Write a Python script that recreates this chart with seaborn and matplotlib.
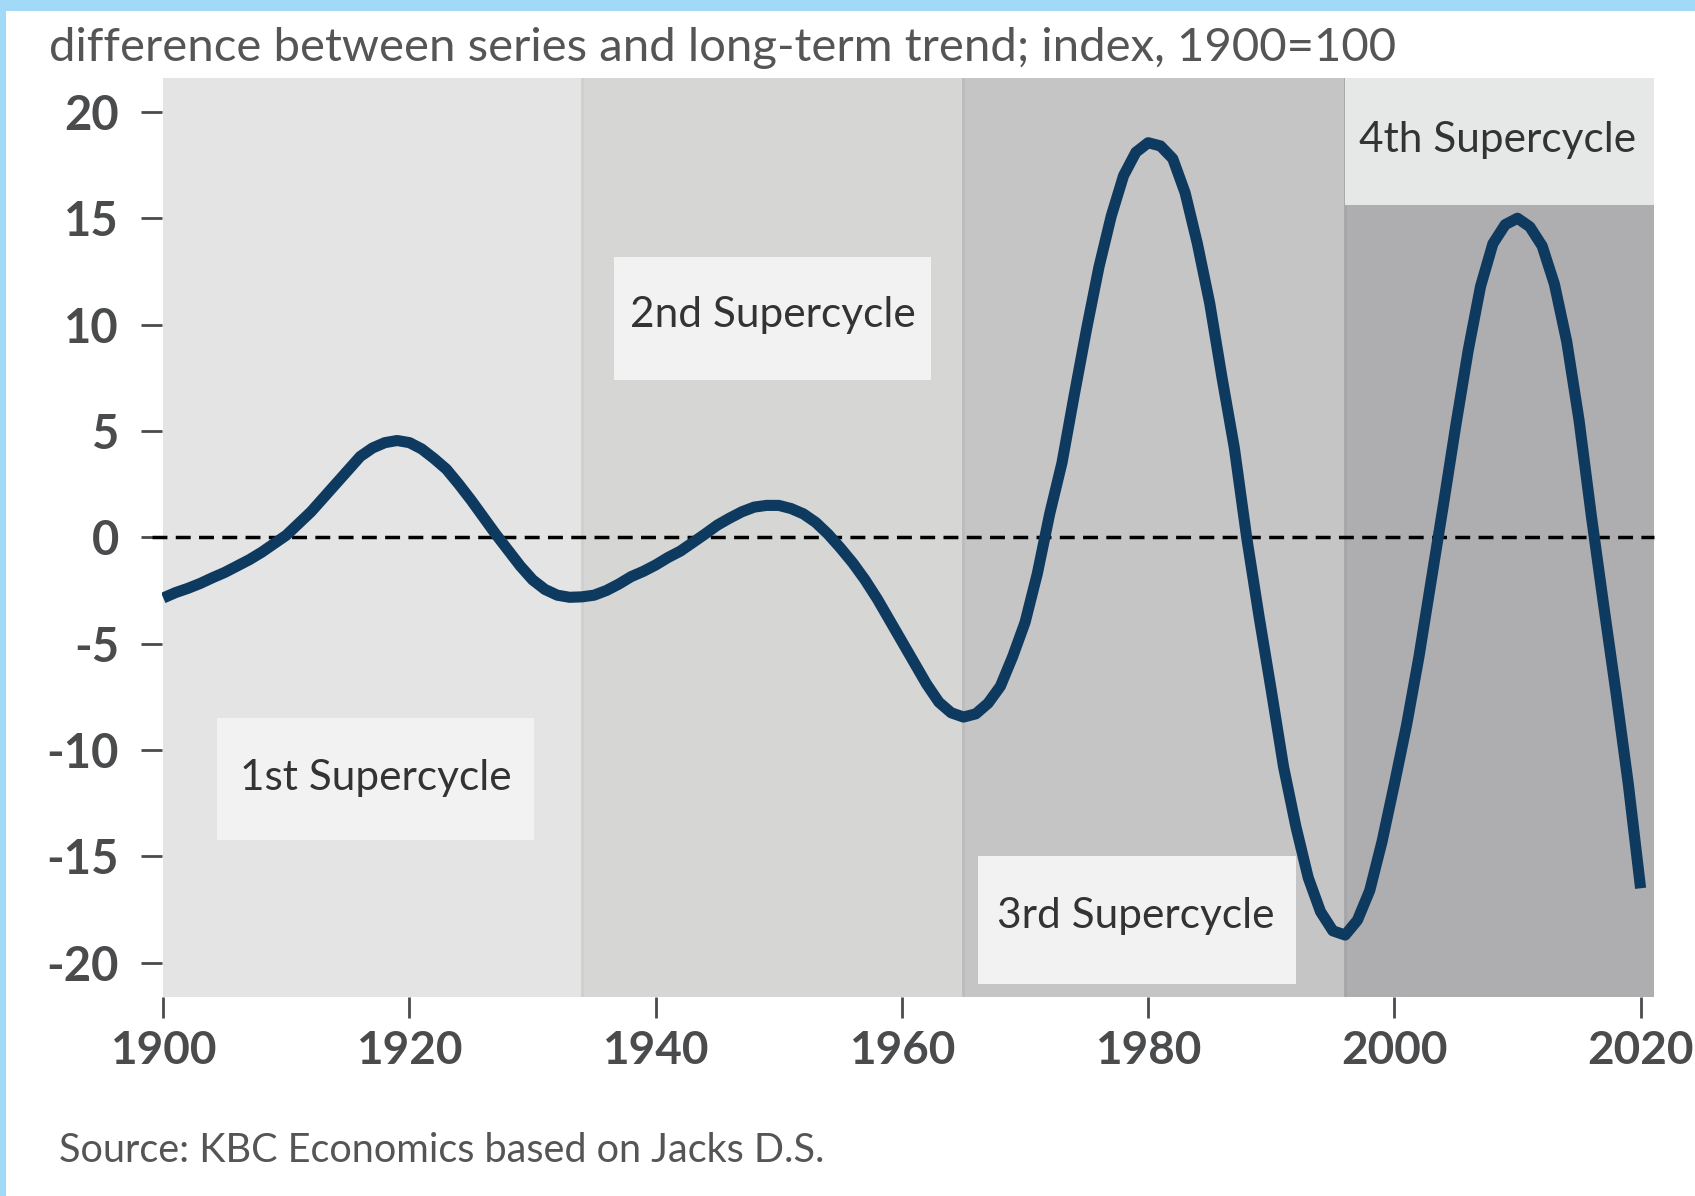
import numpy as np
import pandas as pd
import seaborn as sns
import matplotlib.pyplot as plt
from matplotlib.patches import Rectangle

# ------------------------------------------------- data ---------------------------------------------
years = list(range(1900, 2021))
gap = [
    -2.85, -2.6, -2.4, -2.17, -1.9, -1.65, -1.35, -1.05, -0.7, -0.3,      # 1900-1909
    0.1, 0.65, 1.2, 1.85, 2.5, 3.15, 3.8, 4.2, 4.45, 4.55,                # 1910-1919
    4.45, 4.15, 3.7, 3.2, 2.5, 1.75, 0.95, 0.15, -0.6, -1.35,             # 1920-1929
    -2.0, -2.45, -2.72, -2.82, -2.8, -2.72, -2.5, -2.2, -1.85, -1.6,      # 1930-1939
    -1.3, -0.95, -0.65, -0.25, 0.15, 0.57, 0.9, 1.2, 1.42, 1.5,           # 1940-1949
    1.5, 1.35, 1.1, 0.7, 0.15, -0.5, -1.2, -2.0, -2.9, -3.9,              # 1950-1959
    -4.9, -5.9, -6.9, -7.75, -8.25, -8.45, -8.3, -7.8, -7.0, -5.6,        # 1960-1969
    -4.0, -1.7, 1.1, 3.5, 6.7, 9.8, 12.7, 15.1, 17.0, 18.1,               # 1970-1979
    18.55, 18.4, 17.8, 16.2, 13.8, 11.0, 7.5, 4.2, 0.0, -3.7,             # 1980-1989
    -7.2, -10.8, -13.6, -16.0, -17.6, -18.5, -18.7, -18.0, -16.6, -14.3,  # 1990-1999
    -11.6, -8.8, -5.6, -2.0, 1.6, 5.3, 8.8, 11.8, 13.8, 14.7,             # 2000-2009
    15.0, 14.6, 13.7, 11.9, 9.2, 5.5, 1.0, -3.2, -7.3, -11.6,             # 2010-2019
    -16.5,                                                                # 2020
]

cycle_names = ['1st Supercycle', '2nd Supercycle', '3rd Supercycle', '4th Supercycle']
cycle_start = [1900, 1934, 1965, 1996]
cycle_end = [1934, 1965, 1996, 2021.1]

x_ticks = [1900, 1920, 1940, 1960, 1980, 2000, 2020]
y_ticks = [20, 15, 10, 5, 0, -5, -10, -15, -20]

df = pd.DataFrame({'year': years, 'gap': gap})

# ------------------------------------------------- style ---------------------------------------------
sns.set_theme(style='white')
plt.rcParams['font.family'] = ['Lato', 'DejaVu Sans']

band_colors = ['#E3E4E3', '#D6D6D5', '#C5C5C5', '#AEAEB0']
edge_colors = ['#E3E4E3', '#CFCFCF', '#BCBCBC', '#A6A6A8']
box_color = '#F1F2F1'
text_color = '#333333'
tick_color = '#4A4B4D'

fig = plt.figure(figsize=(16.95, 11.96), dpi=100)

# light blue frame at the top and left
fig.patches.append(Rectangle((0, 1 - 11 / 1196), 1, 11 / 1196, transform=fig.transFigure,
                             facecolor='#A2D9F6', lw=0))
fig.patches.append(Rectangle((0, 0), 6 / 1695, 1, transform=fig.transFigure,
                             facecolor='#A2D9F6', lw=0))

ax = fig.add_axes([0.0956, 0.1666, 0.8803, 0.7683])
ax.set_xlim(1899.9, 2021.1)
ax.set_ylim(-21.6, 21.6)

# supercycle shading
for s, e, c, ec in zip(cycle_start, cycle_end, band_colors, edge_colors):
    ax.axvspan(s, e, color=c, lw=0, zorder=0)
    if s > cycle_start[0]:
        ax.axvline(s, color=ec, lw=2, zorder=0.5)
ax.axvspan(cycle_start[3], cycle_end[3], ymin=(15.6 + 21.6) / 43.2, ymax=1,
           color='#E6E7E7', lw=0, zorder=0.6)

# label boxes
boxes = [(1904.4, -14.25, 25.7, 5.75), (1936.6, 7.4, 25.8, 5.8), (1966.2, -21.0, 25.8, 6.0)]
for x0, y0, w, h in boxes:
    ax.add_patch(Rectangle((x0, y0), w, h, facecolor=box_color, lw=0, zorder=1))

label_pos = [(1917.3, -11.3), (1949.5, 10.45), (1979.0, -17.8), (2008.4, 18.7)]
for name, (tx, ty) in zip(cycle_names, label_pos):
    ax.text(tx, ty, name, ha='center', va='center', fontsize=30.5, color=text_color, zorder=2)

# zero line and series
ax.axhline(0, xmin=-0.007, xmax=1, color='black', lw=2.5, ls=(0, (4.3, 2.4)),
           zorder=2, clip_on=False)
sns.lineplot(data=df, x='year', y='gap', color='#0E3A60', lw=8, ax=ax, zorder=3,
             solid_capstyle='butt', solid_joinstyle='round')

# axes
sns.despine(ax=ax, left=True, bottom=True)
ax.set_xlabel('')
ax.set_ylabel('')
ax.set_xticks(x_ticks)
ax.set_xticklabels([str(t) for t in x_ticks], fontweight='bold')
ax.set_yticks(y_ticks)
ax.set_yticklabels([str(t) for t in y_ticks], fontweight='bold')
ax.tick_params(axis='x', length=15, width=2, color=tick_color, labelcolor=tick_color,
               labelsize=33, pad=9, bottom=True)
ax.tick_params(axis='y', length=15, width=2, color=tick_color, labelcolor=tick_color,
               labelsize=34, pad=16, left=True)

fig.text(49 / 1695, 1 - 48 / 1196, 'difference between series and long-term trend; index, 1900=100',
         ha='left', va='center', fontsize=34, color='#555555')
fig.text(59 / 1695, 1 - 1151 / 1196, 'Source: KBC Economics based on Jacks D.S.',
         ha='left', va='center', fontsize=28.5, color='#555555')

fig.savefig('out.png', dpi=100)
